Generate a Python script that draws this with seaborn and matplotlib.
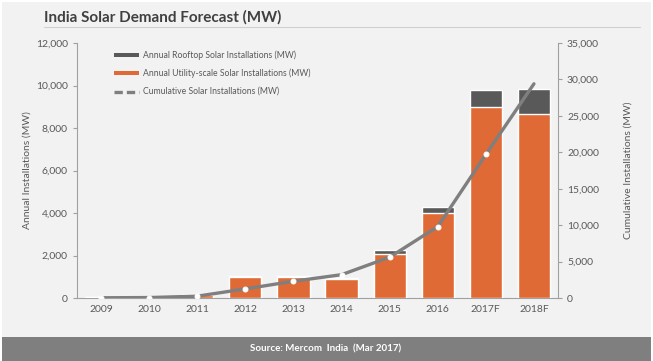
import numpy as np
import pandas as pd
import matplotlib.pyplot as plt
import seaborn as sns
from matplotlib.patches import Patch, Rectangle
from matplotlib.lines import Line2D
from matplotlib.ticker import FuncFormatter, FixedLocator

years = ['2009', '2010', '2011', '2012', '2013', '2014', '2015', '2016', '2017F', '2018F']
utility_mw = [30, 20, 150, 1000, 990, 880, 2080, 4010, 9000, 8680]
rooftop_mw = [5, 10, 40, 40, 50, 80, 200, 280, 800, 1150]
cumulative_mw = [30, 60, 250, 1250, 2300, 3200, 5600, 9800, 19700, 29400]

df = pd.DataFrame({'year': years, 'utility': utility_mw, 'rooftop': rooftop_mw,
                   'cumulative': cumulative_mw})
df['total'] = df['utility'] + df['rooftop']
df['pos'] = np.arange(len(df))

sns.set_style('white')
plt.rcParams['font.family'] = ['Lato', 'DejaVu Sans']

bg = '#F2F2F2'
orange = '#E06A35'
dark = '#595959'
line_grey = '#7F7F7F'
txt = '#595959'

fig = plt.figure(figsize=(6.53, 3.61), dpi=100)
fig.patch.set_facecolor('white')
fig.add_artist(Rectangle((2 / 653, 0), 649 / 653, 359 / 361, transform=fig.transFigure,
                         facecolor=bg, edgecolor='none', zorder=-10))
fig.add_artist(Rectangle((2 / 653, 0), 649 / 653, 24 / 361, transform=fig.transFigure,
                         facecolor='#7F7F7F', edgecolor='none', zorder=-5))
fig.text(0.498, 12 / 361, 'Source: Mercom  India  (Mar 2017)', ha='center', va='center',
         color='white', fontsize=7, fontweight='bold')
fig.text(44 / 653, 1 - 17 / 361, 'India Solar Demand Forecast (MW)', ha='left', va='center',
         color='#404040', fontsize=11, fontweight='bold')
fig.add_artist(Line2D([44 / 653, 640 / 653], [1 - 27 / 361, 1 - 27 / 361],
                      transform=fig.transFigure, color='#D0D0D0', lw=0.8))

ax = fig.add_axes([77 / 653, 1 - 298 / 361, 481 / 653, 255 / 361])
ax.set_facecolor('none')

sns.barplot(data=df, x='year', y='total', color=dark, width=0.67, saturation=1,
            ax=ax, zorder=2)
sns.barplot(data=df, x='year', y='utility', color=orange, width=0.67, saturation=1,
            ax=ax, zorder=3)

ax.set_ylim(0, 12000)
ax.set_xlim(-0.5, len(years) - 0.5)
ax.set_yticks(np.arange(0, 12001, 2000))
ax.yaxis.set_major_formatter(FuncFormatter(lambda v, p: f'{int(v):,}'))
ax.set_xlabel('')
ax.set_ylabel('Annual Installations (MW)', color=txt, fontsize=7.5, labelpad=3)
ax.tick_params(axis='y', colors=txt, labelsize=7.5, length=3, width=0.8, color='#A0A0A0')
ax.tick_params(axis='x', which='major', colors=txt, labelsize=7.5, length=0, pad=5)
ax.xaxis.set_minor_locator(FixedLocator(np.arange(-0.5, len(years), 1.0)))
ax.tick_params(axis='x', which='minor', length=4, width=0.8, color='#A0A0A0')
for s in ['top', 'right']:
    ax.spines[s].set_visible(False)
for s in ['left', 'bottom']:
    ax.spines[s].set_color('#A0A0A0')
    ax.spines[s].set_linewidth(0.8)

ax2 = ax.twinx()
sns.lineplot(data=df, x='pos', y='cumulative', color=line_grey, lw=2.4, ax=ax2,
             marker='o', markersize=3.5, markerfacecolor='white', markeredgecolor='white',
             markevery=list(range(len(years) - 1)), zorder=5)
ax2.set_ylim(0, 35000)
ax2.set_yticks(np.arange(0, 35001, 5000))
ax2.yaxis.set_major_formatter(FuncFormatter(lambda v, p: f'{int(v):,}'))
ax2.set_xlabel('')
ax2.set_ylabel('Cumulative Installations (MW)', color=txt, fontsize=7.5, labelpad=18)
ax2.tick_params(axis='y', colors=txt, labelsize=7.5, length=3, width=0.8, color='#A0A0A0')
for s in ['top', 'left', 'bottom']:
    ax2.spines[s].set_visible(False)
ax2.spines['right'].set_color('#A0A0A0')
ax2.spines['right'].set_linewidth(0.8)
ax2.set_xlim(-0.5, len(years) - 0.5)

handles = [Patch(facecolor=dark, edgecolor='none'),
           Patch(facecolor=orange, edgecolor='none'),
           Line2D([0], [0], color=line_grey, lw=2.4, dashes=(2.5, 1.2))]
labels = ['Annual Rooftop Solar Installations (MW)',
          'Annual Utility-scale Solar Installations (MW)',
          'Cumulative Solar Installations (MW)']
leg = ax2.legend(handles, labels, loc='upper left', bbox_to_anchor=(0.06, 1.0),
                 frameon=False, fontsize=6.2, labelcolor=txt, handlelength=3.0,
                 handleheight=0.35, labelspacing=1.0, handletextpad=0.4)

fig.savefig('out.png', dpi=100, facecolor=fig.get_facecolor())
